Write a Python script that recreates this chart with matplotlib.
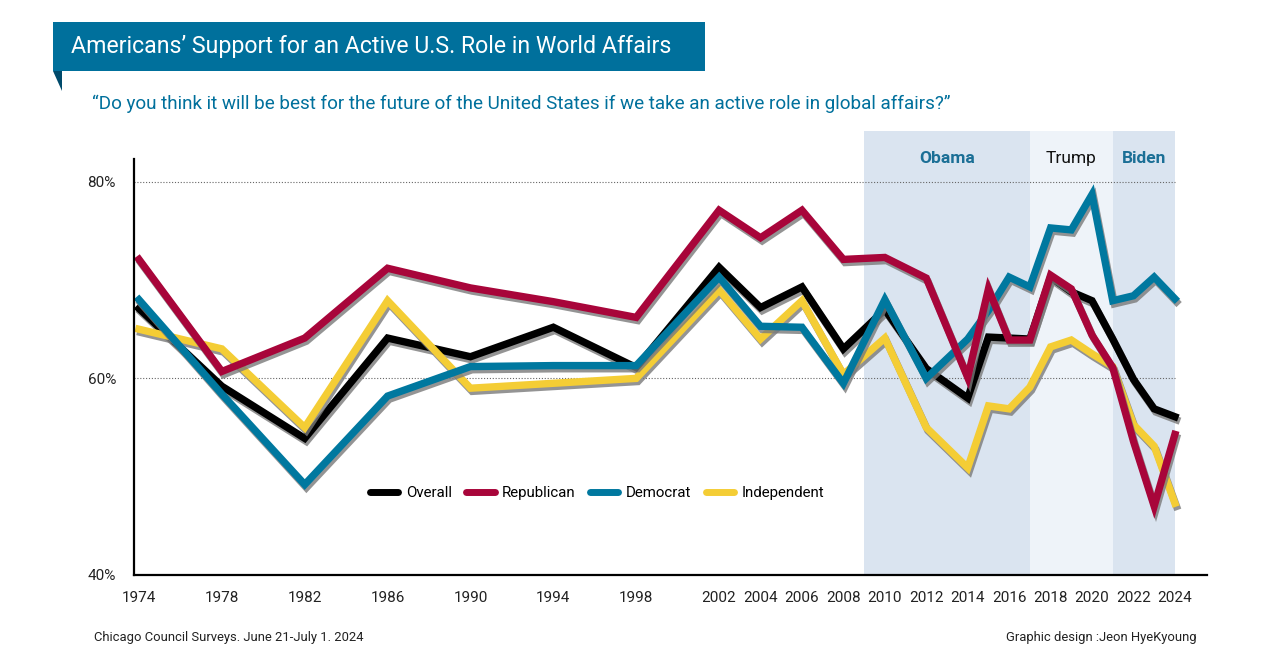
import matplotlib
matplotlib.use("Agg")
import matplotlib.pyplot as plt
import matplotlib.patheffects as pe
from matplotlib.patches import Rectangle, Polygon

plt.rcParams['font.family'] = ['Roboto', 'DejaVu Sans']

# survey years
years = [1974, 1978, 1982, 1986, 1990, 1994, 1998, 2002, 2004, 2006, 2008,
         2010, 2012, 2014, 2015, 2016, 2017, 2018, 2019, 2020, 2021, 2022, 2023, 2024]

overall = [67.1, 59.2, 53.9, 64.1, 62.2, 65.2, 61.1, 71.3, 67.2, 69.3, 63.0,
           67.0, 61.0, 58.0, 64.2, 64.1, 64.0, 70.3, 68.8, 67.9, 64.0, 59.9, 56.9, 56.1]
republican = [72.1, 60.7, 64.1, 71.2, 69.2, 67.8, 66.2, 77.1, 74.3, 77.1, 72.1,
              72.3, 70.2, 60.1, 69.1, 63.9, 63.9, 70.5, 69.1, 64.4, 61.1, 53.6, 47.0, 54.3]
democrat = [68.0, 58.4, 49.2, 58.2, 61.2, 61.3, 61.3, 70.3, 65.3, 65.2, 59.5,
            68.0, 60.0, 64.0, 66.9, 70.3, 69.3, 75.3, 75.1, 78.7, 67.9, 68.4, 70.3, 68.1]
independent = [65.0, 63.0, 55.0, 67.9, 59.0, 59.5, 60.0, 69.0, 64.0, 67.9, 60.4,
               64.1, 55.0, 50.9, 57.2, 56.9, 59.1, 63.2, 63.9, 62.5, 61.2, 55.3, 53.1, 47.3]

tick_years = [1974, 1978, 1982, 1986, 1990, 1994, 1998, 2002, 2004, 2006, 2008,
              2010, 2012, 2014, 2016, 2018, 2020, 2022, 2024]

# presidential terms shaded behind the lines
eras = [("Obama", 2009, 2017), ("Trump", 2017, 2021), ("Biden", 2021, 2024)]
era_fill = {"Obama": "#dae4f0", "Trump": "#eef3f9", "Biden": "#dae4f0"}
era_text = {"Obama": "#1b6f96", "Trump": "#111111", "Biden": "#1b6f96"}

blue_dark = "#00709c"

fig = plt.figure(figsize=(12.8, 6.69), dpi=100)
ax = fig.add_axes([134/1280, 1-575/669, (1207-134)/1280, (575-131)/669])
ax.set_xlim(1973.76, 2025.55)
ax.set_ylim(40, 85.16)

for name, a, b in eras:
    ax.text((a+b)/2, 82.4, name, ha="center", va="center", fontsize=12.5,
            color=era_text[name], fontweight="bold" if name != "Trump" else "normal")
    ax.axvspan(a, b, color=era_fill[name], lw=0, zorder=0)

ax.hlines([60, 80], 1973.76, 2024, colors="#666666", linestyles=(0, (1, 1.6)), lw=0.8, zorder=1)

shadow = [pe.SimpleLineShadow(offset=(1.2, -2.3), shadow_color="#7a7a7a", alpha=0.8), pe.Normal()]
colors = {"Overall": "#000000", "Republican": "#a8053a",
          "Democrat": "#00789f", "Independent": "#f4cd35"}
series = [("Overall", overall), ("Independent", independent),
          ("Democrat", democrat), ("Republican", republican)]
for label, vals in series:
    ax.plot(years, vals, color=colors[label], lw=5.3, solid_joinstyle="miter", zorder=3,
            path_effects=shadow)

# legend handles (in the reference order)
handles = []
for label in ["Overall", "Republican", "Democrat", "Independent"]:
    h, = ax.plot([], [], color=colors[label], lw=5, solid_capstyle="round", label=label)
    handles.append(h)
ax.legend(handles=handles, loc="center", bbox_to_anchor=(0.4315, 0.185), ncol=4,
          frameon=False, fontsize=10.8, handlelength=1.9, columnspacing=0.95,
          handletextpad=0.5)

for s in ["top", "right"]:
    ax.spines[s].set_visible(False)
ax.spines["left"].set_bounds(40, 82.3)
for s in ["left", "bottom"]:
    ax.spines[s].set_linewidth(1.6)
    ax.spines[s].set_zorder(5)

ax.set_xticks(tick_years)
ax.set_xticklabels([str(y) for y in tick_years])
ax.set_yticks([40, 60, 80])
ax.set_yticklabels(["40%", "60%", "80%"])
ax.tick_params(axis="both", length=0, labelsize=11, colors="#222222")
ax.tick_params(axis="x", pad=11.5)
ax.tick_params(axis="y", pad=13)

# title banner
fig.patches.append(Rectangle((53/1280, 1-71/669), (705-53)/1280, 49/669,
                             transform=fig.transFigure, color=blue_dark, lw=0))
fig.patches.append(Polygon([(53/1280, 1-71/669), (62/1280, 1-71/669), (62/1280, 1-91/669)],
                           closed=True, transform=fig.transFigure, color="#004a6b", lw=0))
fig.text(71/1280, 1-47/669, "Americans\u2019 Support for an Active U.S. Role in World Affairs",
         color="white", fontsize=16.7, va="center", ha="left")
fig.text(92/1280, 1-104/669,
         "\u201cDo you think it will be best for the future of the United States if we take an active role in global affairs?\u201d",
         color=blue_dark, fontsize=13.6, va="center", ha="left")

fig.text(94/1280, 1-638/669, "Chicago Council Surveys. June 21-July 1. 2024",
         fontsize=9.4, color="#222222", va="center", ha="left")
fig.text(1197/1280, 1-637/669, "Graphic design :Jeon HyeKyoung",
         fontsize=9.4, color="#222222", va="center", ha="right")

fig.savefig("out.png", dpi=100)
